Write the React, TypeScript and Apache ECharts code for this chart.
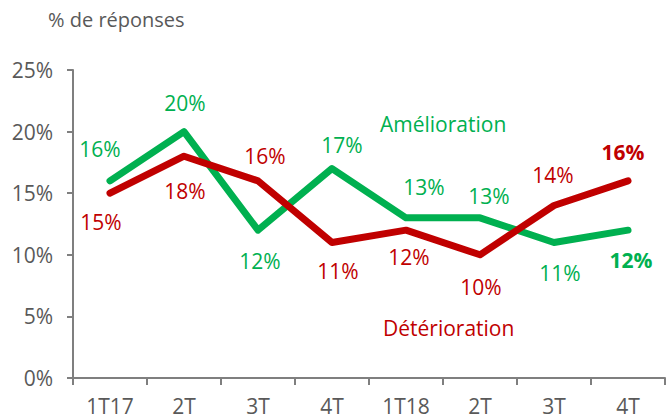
import React, { useEffect, useRef } from "react";
import * as echarts from "echarts";

const categories = ["1T17", "2T", "3T", "4T", "1T18", "2T", "3T", "4T"];
const amelioration = [16, 20, 12, 17, 13, 13, 11, 12];
const deterioration = [15, 18, 16, 11, 12, 10, 14, 16];
const yTicks = [0, 5, 10, 15, 20, 25];

// label placement (layout only)
const greenOffsets: [number, number][] = [
  [-10, -32], [1, -29], [2, 31], [10, -24], [18, -31], [9, -22], [6, 31], [3, 30],
];
const redOffsets: [number, number][] = [
  [-9, 29], [1, 35], [7, -25], [6, 29], [3, 27], [1, 32], [-1, -31], [-5, -29],
];

const GREEN = "#00B050";
const RED = "#C00000";
const GRAY = "#595959";
const FONT = "Open Sans";
const FS = 21;

function buildData(values: number[], offsets: [number, number][], color: string) {
  return values.map((v, i) => ({
    value: v,
    label: {
      show: true,
      position: "inside",
      offset: offsets[i],
      formatter: "{c}%",
      color,
      fontSize: FS,
      fontFamily: FONT,
      fontWeight: i === values.length - 1 ? "bold" : "normal",
    },
  }));
}

export default function App() {
  const ref = useRef<HTMLDivElement>(null);
  useEffect(() => {
    if (!ref.current) return;
    const chart = echarts.init(ref.current, null, { renderer: "svg" });
    chart.setOption({
      animation: false,
      backgroundColor: "#ffffff",
      grid: { left: 73, right: 1, top: 70, bottom: 41, containLabel: false },
      xAxis: {
        type: "category",
        data: categories,
        boundaryGap: true,
        axisLine: { show: true, lineStyle: { color: "#7f7f7f", width: 2 } },
        axisTick: { show: true, length: 7, interval: 0, lineStyle: { color: "#7f7f7f", width: 2 } },
        axisLabel: { color: GRAY, fontSize: FS, fontFamily: FONT, margin: 17, interval: 0 },
        splitLine: { show: false },
      },
      yAxis: {
        type: "value",
        min: yTicks[0],
        max: yTicks[yTicks.length - 1],
        interval: 5,
        axisLine: { show: true, lineStyle: { color: "#7f7f7f", width: 2 } },
        axisTick: { show: true, length: 6, lineStyle: { color: "#7f7f7f", width: 2 } },
        axisLabel: { color: GRAY, fontSize: FS, fontFamily: FONT, margin: 20, formatter: "{value}%" },
        splitLine: { show: false },
      },
      graphic: [
        {
          type: "text",
          left: 48,
          top: 9,
          style: { text: "% de réponses", fill: GRAY, fontSize: 20, fontFamily: FONT },
        },
        {
          type: "text",
          left: 380,
          top: 113,
          style: { text: "Amélioration", fill: GREEN, fontSize: FS, fontFamily: FONT },
        },
        {
          type: "text",
          left: 383,
          top: 317,
          style: { text: "Détérioration", fill: RED, fontSize: FS, fontFamily: FONT },
        },
      ],
      series: [
        {
          name: "Amélioration",
          type: "line",
          data: buildData(amelioration, greenOffsets, GREEN),
          symbol: "circle",
          symbolSize: 0.1,
          showSymbol: true,
          itemStyle: { color: GREEN },
          lineStyle: { color: GREEN, width: 7, cap: "round", join: "round" },
          z: 2,
        },
        {
          name: "Détérioration",
          type: "line",
          data: buildData(deterioration, redOffsets, RED),
          symbol: "circle",
          symbolSize: 0.1,
          showSymbol: true,
          itemStyle: { color: RED },
          lineStyle: { color: RED, width: 7, cap: "round", join: "round" },
          z: 3,
        },
      ],
    });
    return () => chart.dispose();
  }, []);
  return (
    <div
      ref={ref}
      style={{ position: "absolute", left: 0, top: 0, width: 666, height: 419 }}
    />
  );
}
